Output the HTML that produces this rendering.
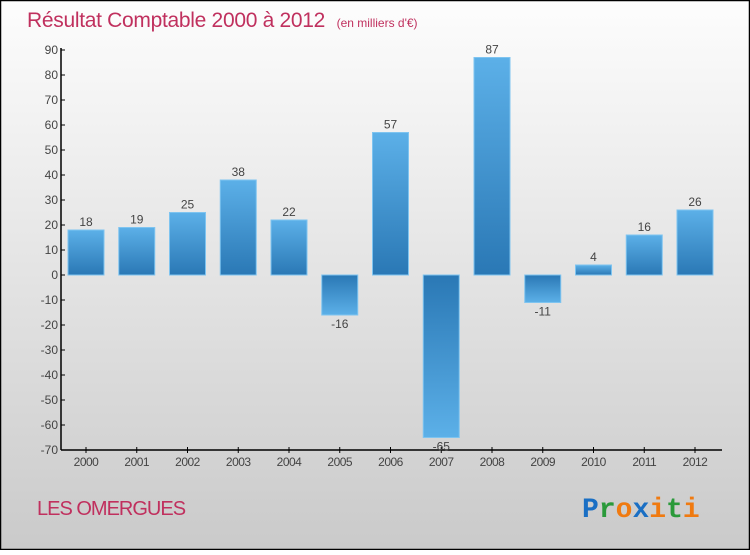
<!DOCTYPE html>
<html><head><meta charset="utf-8"><style>
body{margin:0;width:750px;height:550px;overflow:hidden;font-family:"Liberation Sans",sans-serif}
</style></head><body>
<svg id="chart" width="750" height="550" xmlns="http://www.w3.org/2000/svg">
<defs>
<linearGradient id="bg" x1="0" y1="0" x2="0" y2="1"><stop offset="0" stop-color="#fdfdfd"/><stop offset="1" stop-color="#cacaca"/></linearGradient>
<linearGradient id="gp" x1="0" y1="0" x2="0" y2="1"><stop offset="0" stop-color="#5cb0e8"/><stop offset="1" stop-color="#2a78b5"/></linearGradient>
<linearGradient id="gn" x1="0" y1="0" x2="0" y2="1"><stop offset="0" stop-color="#2a78b5"/><stop offset="1" stop-color="#5cb0e8"/></linearGradient>
</defs>
<rect x="0.5" y="0.5" width="749" height="549" fill="url(#bg)" stroke="#000" stroke-width="1.5"/>
<text x="27" y="27" font-size="21" fill="#c0305e" letter-spacing="-0.3">Résultat Comptable 2000 à 2012 <tspan font-size="12" dx="6" letter-spacing="0">(en milliers d'€)</tspan></text>
<text x="37" y="515" font-size="20" fill="#c0305e" letter-spacing="-1">LES OMERGUES</text>
<g font-size="28" font-weight="bold" font-family="Liberation Mono,monospace">
<text x="582" y="517"><tspan fill="#1a6fc4">P</tspan><tspan fill="#2a9a3a">r</tspan><tspan fill="#f07a10">o</tspan><tspan fill="#1a6fc4">x</tspan><tspan fill="#f07a10">i</tspan><tspan fill="#2a9a3a">t</tspan><tspan fill="#f07a10">i</tspan></text>
</g>
<g id="axes"></g><g id="bars"></g>
</svg>
<script>
const years=["2000","2001","2002","2003","2004","2005","2006","2007","2008","2009","2010","2011","2012"];
const values=[18,19,25,38,22,-16,57,-65,87,-11,4,16,26];
const yTicks=[90,80,70,60,50,40,30,20,10,0,-10,-20,-30,-40,-50,-60,-70];
const NS="http://www.w3.org/2000/svg";
const yMin=-70,yMax=90,plotTop=50,plotBot=450,x0=61,x1=722;
function yS(v){return plotBot-(v-yMin)/(yMax-yMin)*(plotBot-plotTop);}
function xS(i){return 86+i*50.75;}
function mk(tag,attrs,parent){const e=document.createElementNS(NS,tag);for(const k in attrs)e.setAttribute(k,attrs[k]);parent.appendChild(e);return e;}
const ax=document.getElementById('axes'),bg=document.getElementById('bars');
let l=mk('line',{x1:x0,y1:plotTop-2,x2:x0,y2:plotBot,stroke:'#000','stroke-width':1.5},ax);


l=mk('line',{x1:x0,y1:plotBot,x2:x1,y2:plotBot,stroke:'#000','stroke-width':1.5},ax);


yTicks.forEach(t=>{
 const tk=mk('line',{x1:x0,y1:yS(t),x2:x0+4,y2:yS(t),stroke:'#000'},ax);
 
 
 const tx=mk('text',{x:x0-3,y:yS(t)+4,'text-anchor':'end','font-size':12,fill:'#444'},ax);
 tx.textContent=t;
 
 
});
years.forEach((yr,i)=>{
 const tk=mk('line',{x1:xS(i),y1:plotBot-3,x2:xS(i),y2:plotBot+3,stroke:'#000'},ax);
 
 
 const tx=mk('text',{x:xS(i),y:plotBot+16,'text-anchor':'middle','font-size':12,fill:'#444','letter-spacing':'-0.5'},ax);
 tx.textContent=yr;
 
 
 const v=values[i],yt=Math.min(yS(v),yS(0)),h=Math.abs(yS(v)-yS(0));
 const r=mk('rect',{x:xS(i)-18,y:yt,width:36,height:h,fill:v>=0?'url(#gp)':'url(#gn)',stroke:'#7ec4f0','stroke-width':1},bg);
 
 
 const lb=mk('text',{x:xS(i),y:v>=0?yS(v)-4:yS(v)+13,'text-anchor':'middle','font-size':12,fill:'#444'},bg);
 lb.textContent=v;
 
 
});
</script>
</body></html>
